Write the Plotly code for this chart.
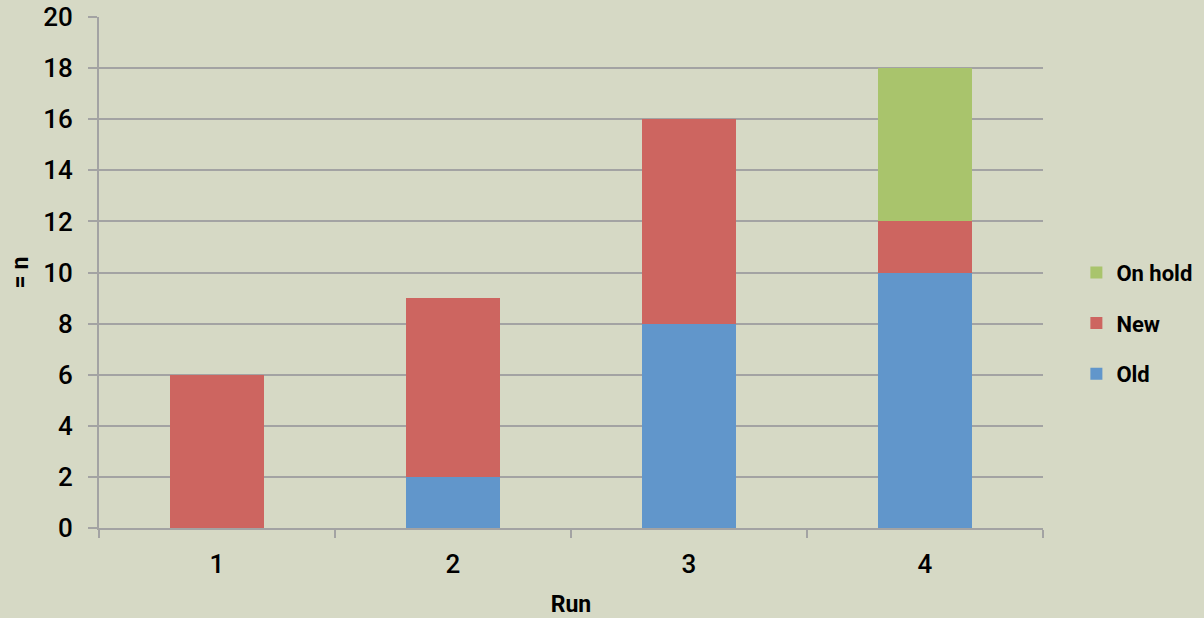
import plotly.graph_objects as go

runs = ["1", "2", "3", "4"]
old = [0, 2, 8, 10]
new = [6, 7, 8, 2]
on_hold = [0, 0, 0, 6]

bg = "#D6D9C5"
grid = "#A3A3A3"
font = dict(family="Roboto, Liberation Sans, Arial", size=26, color="black", weight=500)
bold = dict(family="Roboto, Liberation Sans, Arial", size=23, color="black", weight=700)

fig = go.Figure()
fig.add_trace(go.Bar(x=runs, y=old, name="Old", legendgroup="old", legendrank=3,
                     marker=dict(color="#6196CB", line_width=0)))
fig.add_trace(go.Bar(x=runs, y=new, name="New", legendgroup="new", legendrank=2,
                     marker=dict(color="#CD6560", line_width=0)))
fig.add_trace(go.Bar(x=runs, y=on_hold, name="On hold", legendgroup="hold", legendrank=1,
                     marker=dict(color="#A9C46C", line_width=0)))

fig.update_layout(
    barmode="stack",
    bargap=0.6,
    width=1204, height=618,
    margin=dict(l=99, r=161, t=17, b=90, autoexpand=False),
    paper_bgcolor=bg, plot_bgcolor=bg,
    font=font,
    legend=dict(traceorder="grouped", xref="container", yref="container",
                x=0.894, xanchor="left", y=0.477, yanchor="middle",
                font=dict(bold, size=22), tracegroupgap=19, itemwidth=30,
                bgcolor="rgba(0,0,0,0)"),
)
fig.update_xaxes(
    title=dict(text="Run", font=bold, standoff=19),
    showline=True, linecolor=grid, linewidth=2,
    ticks="outside", tickson="boundaries", ticklen=8, tickcolor=grid, tickwidth=2,
    ticklabelstandoff=12,
    showgrid=False, automargin=False,
)
fig.update_yaxes(
    title=dict(text="= n", font=bold, standoff=8),
    range=[0, 20], dtick=2,
    showline=True, linecolor=grid, linewidth=2,
    ticks="outside", ticklen=9, tickcolor=grid, tickwidth=2,
    ticklabelstandoff=10,
    showgrid=True, gridcolor=grid, gridwidth=2,
    zeroline=False, automargin=False,
)

fig.write_html("out.html", config=dict(displayModeBar=False),
               post_script="document.body.style.margin='0';")
